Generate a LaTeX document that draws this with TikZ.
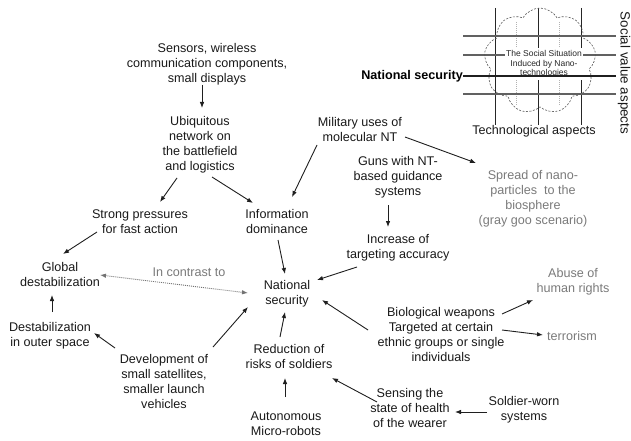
\documentclass[tikz,border=0pt]{standalone}
\usepackage{fontspec}
\setmainfont{Liberation Sans}
\usetikzlibrary{arrows.meta,shapes.symbols}

\begin{document}
\begin{tikzpicture}[x=1pt,y=-1pt,
  lbl/.style={align=center, font=\fontsize{12.6}{15}\selectfont, text=black!90, inner sep=1pt},
  glbl/.style={lbl, text=black!52},
  arr/.style={-{Latex[length=6pt,width=4.6pt]}, line width=0.9pt, black!88},
  cmp/.style={arr, {Latex[length=6pt,width=4.6pt]}-{Latex[length=6pt,width=4.6pt]}, black!55, dash pattern=on 1pt off 1pt},
  gridline/.style={line width=1.1pt, black!62},
  axisline/.style={line width=0.8pt, black!85},
  softline/.style={line width=0.7pt, black!30, dash pattern=on 1pt off 1pt},
]
\useasboundingbox (0,0) rectangle (631,441);

% ---- matrix of aspects with the cloud ----
\coordinate (gl1) at (463,36);  \coordinate (gr1) at (616,36);
\coordinate (gl2) at (463,55);  \coordinate (gr2) at (616,55);
\coordinate (gl3) at (463,76);  \coordinate (gr3) at (616,76);
\coordinate (gl4) at (463,94);  \coordinate (gr4) at (616,94);
\coordinate (vt1) at (495,8);   \coordinate (vb1) at (495,125);
\coordinate (vt2) at (538,8);   \coordinate (vb2) at (538,125);
\coordinate (vt3) at (581,8);   \coordinate (vb3) at (581,125);
\coordinate (dt1) at (516,22);  \coordinate (db1) at (516,106);
\coordinate (dt2) at (559,22);  \coordinate (db2) at (559,106);

\draw[softline] (dt1) -- (db1);
\draw[softline] (dt2) -- (db2);
\draw[axisline] (vt1) -- (vb1);
\draw[axisline] (vt2) -- (vb2);
\draw[axisline] (vt3) -- (vb3);
\draw[gridline] (gl1) -- (gr1);
\draw[gridline] (gl2) -- (gr2);
\draw[gridline] (gl4) -- (gr4);

\node[cloud, cloud puffs=9, cloud puff arc=120, aspect=1.05,
      minimum width=112pt, minimum height=106pt, draw=black!65,
      line width=0.6pt, dash pattern=on 2pt off 1.5pt] (cloud) at (540,61) {};

\node[align=center, font=\fontsize{8.5}{9.6}\selectfont, text=black!85,
      fill=white, inner xsep=1pt, inner ysep=2pt] (situation) at (544,64)
  {The Social Situation\\Induced by Nano-\\technologies};

\draw[line width=2.6pt, black!88] (gl3) -- (gr3);

\node[anchor=east, inner sep=0pt, font=\fontsize{12.6}{15}\selectfont\bfseries,
      text=black] (nsec) at (gl3) {National security};
\node[lbl] (tech) at (534,131) {Technological aspects};
\node[lbl, font=\fontsize{13.4}{15}\selectfont, rotate=-90] (social) at (624,73)
  {Social value aspects};

% ---- concept nodes ----
\node[lbl] (sens) at (207,64) {Sensors, wireless\\communication components,\\small displays};
\node[lbl] (ubiq) at (200,144.5) {Ubiquitous\\network on\\the battlefield\\and logistics};
\node[lbl] (strong) at (140,222) {Strong pressures\\for fast action};
\node[lbl] (info) at (277,221) {Information\\dominance};
\node[lbl] (milit) at (360,129) {Military uses of\\molecular NT};
\node[lbl] (guns) at (398,177) {Guns with NT-\\based guidance\\systems};
\node[lbl] (incr) at (398,248) {Increase of\\targeting accuracy};
\node[glbl] (spread) at (533,199) {Spread of nano-\\particles\ \ to the\\biosphere\\(gray goo scenario)};
\node[lbl] (natl) at (287,294) {National\\security};
\node[lbl] (glob) at (60,274) {Global\\destabilization};
\node[glbl] (contrast) at (189,272) {In contrast to};
\node[lbl] (destab) at (50,336) {Destabilization\\in outer space};
\node[lbl] (dev) at (164,381) {Development of\\small satellites,\\smaller launch\\vehicles};
\node[lbl] (reduc) at (289,356) {Reduction of\\risks of soldiers};
\node[lbl] (auton) at (286,424) {Autonomous\\Micro-robots};
\node[lbl] (bio) at (441,334) {Biological weapons\\Targeted at certain\\ethnic groups or single\\individuals};
\node[glbl] (abuse) at (573,282) {Abuse of\\human rights};
\node[glbl] (terror) at (572,336) {terrorism};
\node[lbl] (sensing) at (410,408) {Sensing the\\state of health\\of the wearer};
\node[lbl] (soldier) at (524,410) {Soldier-worn\\systems};

% ---- connectors ----
\draw[arr] ([shift={(-5,21)}]sens.center) -- ([shift={(2,-36.5)}]ubiq.center);
\draw[arr] ([shift={(-23,33.5)}]ubiq.center) -- ([shift={(20,-20)}]strong.center);
\draw[arr] ([shift={(12,32.5)}]ubiq.center) -- ([shift={(-24,-18)}]info.center);
\draw[arr] ([shift={(-43,16)}]milit.center) -- ([shift={(15,-24)}]info.center);
\draw[arr] ([shift={(45,8)}]milit.center) -- ([shift={(-57,-36)}]spread.center);
\draw[arr] ([shift={(-10,28)}]guns.center) -- ([shift={(-10,-21)}]incr.center);
\draw[arr] ([shift={(-41,19)}]incr.center) -- ([shift={(30,-14)}]natl.center);
\draw[arr] ([shift={(1,19)}]info.center) -- ([shift={(-2,-20)}]natl.center);
\draw[arr] ([shift={(-43,10)}]strong.center) -- ([shift={(3,-20)}]glob.center);
\draw[cmp] ([shift={(40,1)}]glob.center) -- ([shift={(-39,-1)}]natl.center);
\draw[arr] ([shift={(2,-24)}]destab.center) -- ([shift={(-8,21)}]glob.center);
\draw[arr] ([shift={(-49,-33)}]dev.center) -- ([shift={(44,-3)}]destab.center);
\draw[arr] ([shift={(49,-34)}]dev.center) -- ([shift={(-39,13)}]natl.center);
\draw[arr] ([shift={(-9,-19)}]reduc.center) -- ([shift={(-2,18)}]natl.center);
\draw[arr] ([shift={(-1,-27)}]auton.center) -- ([shift={(-4,22)}]reduc.center);
\draw[arr] ([shift={(-73,-4)}]bio.center) -- ([shift={(35,6)}]natl.center);
\draw[arr] ([shift={(61,-20)}]bio.center) -- ([shift={(-40,18)}]abuse.center);
\draw[arr] ([shift={(61,-4)}]bio.center) -- ([shift={(-29,-1)}]terror.center);
\draw[arr] ([shift={(-33,-6)}]sensing.center) -- ([shift={(43,22)}]reduc.center);
\draw[arr] ([shift={(-37,2)}]soldier.center) -- ([shift={(45,4)}]sensing.center);

\end{tikzpicture}
\end{document}
